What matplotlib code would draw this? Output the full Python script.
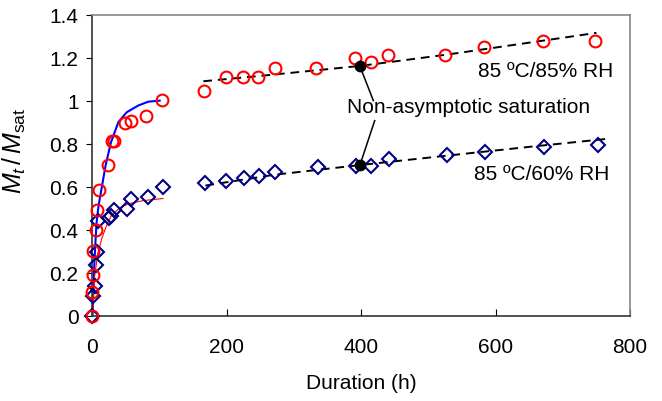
"""Moisture uptake curves at 85 ºC / 85% RH and 85 ºC / 60% RH."""

import matplotlib

matplotlib.use("Agg")
import matplotlib.pyplot as plt

plt.rcParams["font.family"] = ["Liberation Sans", "DejaVu Sans"]
plt.rcParams["mathtext.fontset"] = "custom"
plt.rcParams["mathtext.rm"] = "Liberation Sans"
plt.rcParams["mathtext.it"] = "Liberation Sans:italic"

# 85 ºC / 85% RH measurements
rh85_hours = [0, 0, 1, 1, 5, 6, 9, 23, 29, 32, 48, 57, 80, 104,
              166, 199, 224, 247, 271, 333, 391, 414, 440, 525, 582, 671, 748]
rh85_ratio = [0, 0.11, 0.19, 0.30, 0.40, 0.49, 0.585, 0.70, 0.81, 0.81, 0.895, 0.907, 0.927, 1.005,
              1.044, 1.112, 1.112, 1.109, 1.151, 1.151, 1.199, 1.181, 1.213, 1.21, 1.248, 1.275, 1.275]

# 85 ºC / 60% RH measurements
rh60_hours = [0, 1, 4, 5, 6, 8, 25, 28, 32, 51, 58, 82, 105,
              168, 199, 226, 248, 271, 336, 392, 415, 442, 528, 584, 672, 752]
rh60_ratio = [0, 0.093, 0.14, 0.236, 0.295, 0.442, 0.453, 0.465, 0.493, 0.496, 0.542, 0.551, 0.597,
              0.617, 0.628, 0.640, 0.651, 0.667, 0.693, 0.698, 0.698, 0.729, 0.748, 0.760, 0.786, 0.794]

# Fickian fits over the first 100 h
fick85_hours = [0, 1, 2.5, 4, 6, 9, 12.6, 19.6, 27.5, 38.5, 51, 68, 83, 100]
fick85_ratio = [0, 0.10, 0.22, 0.32, 0.43, 0.51, 0.575, 0.70, 0.806, 0.90, 0.946, 0.977, 0.995, 1.0]
fick60_hours = [0, 3, 8, 14, 21, 28, 40, 53, 75, 105]
fick60_ratio = [0, 0.18, 0.29, 0.36, 0.42, 0.465, 0.50, 0.52, 0.535, 0.545]

# Long-term (non-asymptotic) trend lines
trend85_hours = [165, 250, 330, 400, 530, 640, 750]
trend85_ratio = [1.09, 1.115, 1.14, 1.162, 1.215, 1.265, 1.315]
trend60_hours = [168, 270, 397, 530, 650, 765]
trend60_ratio = [0.605, 0.655, 0.70, 0.745, 0.785, 0.822]

# Points marking the non-asymptotic saturation
marker_hours = [398, 398]
marker_ratio = [1.16, 0.70]
note_anchor_hours = [418, 420]
note_anchor_ratio = [1.0, 0.907]

fig = plt.figure(figsize=(6.62, 4.02), dpi=100)
ax = fig.add_axes([0.1397, 0.2122, 0.812, 0.749])

ax.plot(trend85_hours, trend85_ratio, color="black", lw=1.4, dashes=(4.5, 3), zorder=2)
ax.plot(trend60_hours, trend60_ratio, color="black", lw=1.4, dashes=(4.5, 3), zorder=2)
ax.plot(fick85_hours, fick85_ratio, color="#0000ff", lw=1.5, zorder=2)
ax.plot(fick60_hours, fick60_ratio, color="#ff0000", lw=0.8, zorder=2)

ax.plot(rh60_hours, rh60_ratio, ls="none", marker="D", ms=7, mfc="none",
        mec="#000080", mew=1.5, zorder=3, clip_on=False)
ax.plot(rh85_hours, rh85_ratio, ls="none", marker="o", ms=8.5, mfc="none",
        mec="#ff0000", mew=1.5, zorder=3, clip_on=False)

for hx, hy, ax_x, ax_y in zip(marker_hours, marker_ratio, note_anchor_hours, note_anchor_ratio):
    ax.plot([ax_x, hx], [ax_y, hy], color="black", lw=1.1, zorder=4)
ax.plot(marker_hours, marker_ratio, ls="none", marker="o", ms=7.5, color="black", zorder=5)

ax.text(560, 0.975, "Non-asymptotic saturation", ha="center", va="center", fontsize=15)
ax.text(675, 1.14, "85 ºC/85% RH", ha="center", va="center", fontsize=15)
ax.text(669, 0.66, "85 ºC/60% RH", ha="center", va="center", fontsize=15)

ax.set_xlim(0, 800)
ax.set_ylim(0, 1.4)
ax.set_xticks([0, 200, 400, 600, 800])
ax.set_yticks([0, 0.2, 0.4, 0.6, 0.8, 1.0, 1.2, 1.4])
ax.set_yticklabels(["0", "0.2", "0.4", "0.6", "0.8", "1", "1.2", "1.4"])
ax.tick_params(axis="x", direction="in", length=5, pad=15, labelsize=15)
ax.tick_params(axis="y", direction="out", length=4, pad=6, labelsize=15)

for side in ["left", "bottom"]:
    ax.spines[side].set_color("#333333")
for side in ["top", "right"]:
    ax.spines[side].set_color("#888888")
for spine in ax.spines.values():
    spine.set_linewidth(1.2)

ax.set_xlabel("Duration (h)", fontsize=15)
ax.xaxis.set_label_coords(0.5, -0.19)
ax.set_ylabel(r"$M_t\,/\,M_{\mathrm{sat}}$", fontsize=18)
ax.yaxis.set_label_coords(-0.12, 0.55)

fig.savefig("out.png", dpi=100)
plt.close(fig)
